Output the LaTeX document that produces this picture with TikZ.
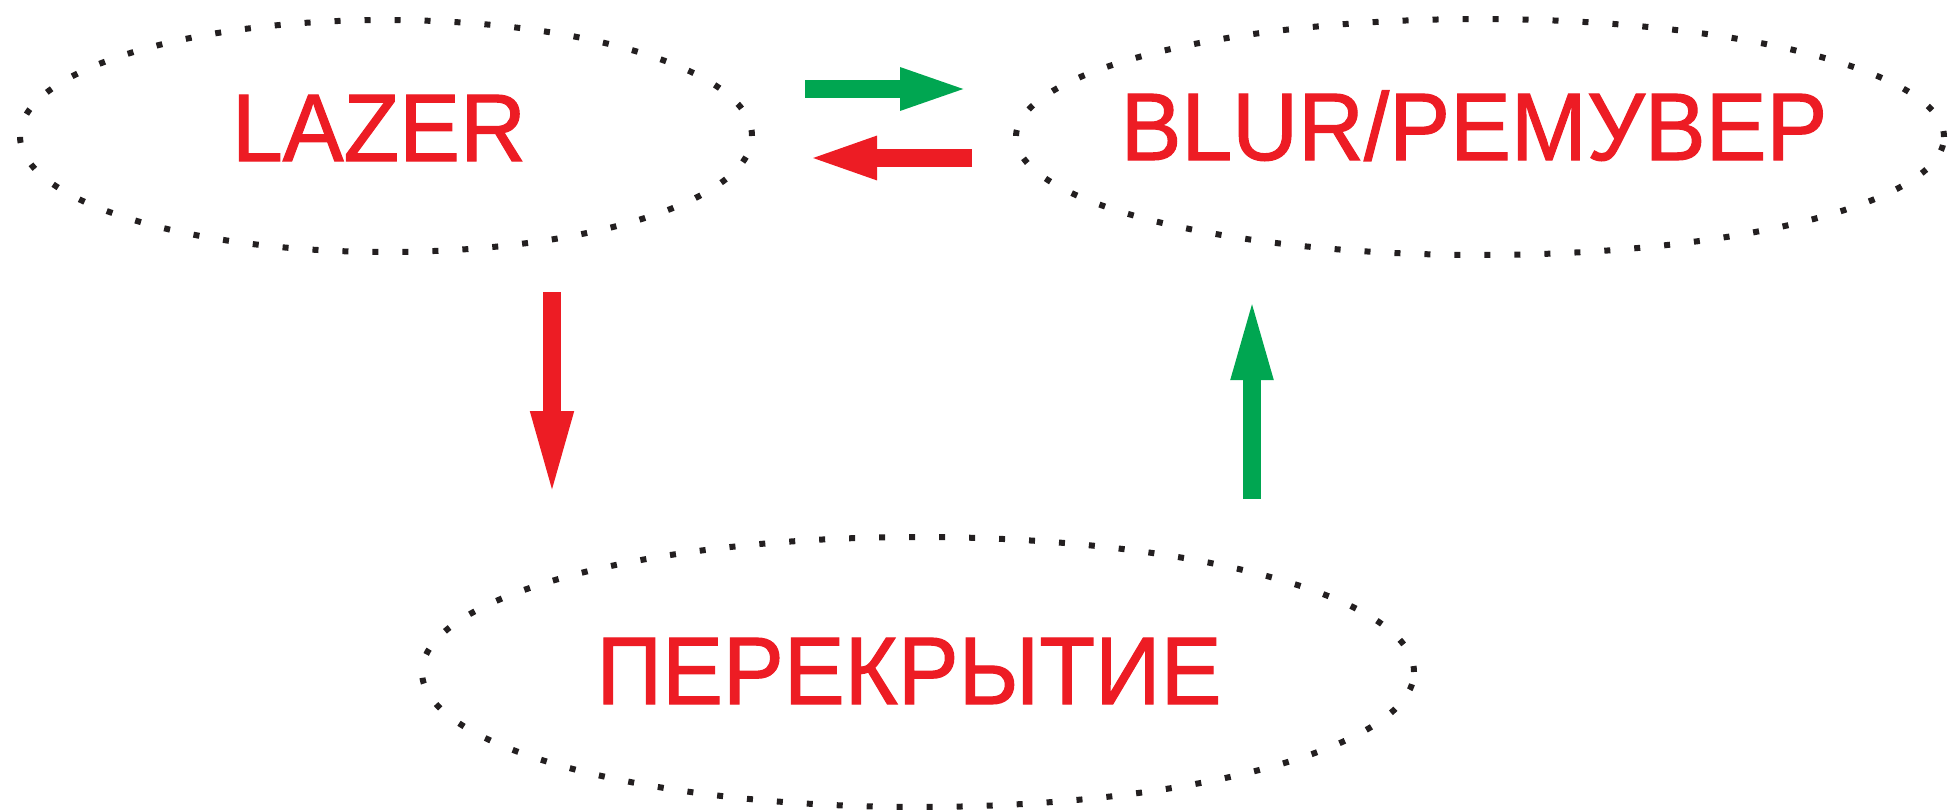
\documentclass[tikz,border=0pt]{standalone}
\usepackage{fontspec}
\setmainfont{Liberation Sans}
\newfontfamily\lblfont{Liberation Sans}[FakeBold=1.2]
\usetikzlibrary{shapes.geometric,arrows.meta}
\definecolor{cred}{RGB}{237,28,36}
\definecolor{cgreen}{RGB}{0,166,81}
\definecolor{cdot}{RGB}{35,31,32}
\begin{document}
\begin{tikzpicture}[x=1pt,y=-1pt,
  ring/.style={ellipse,draw=cdot,line width=6pt,dash pattern=on 6pt off 24pt,inner sep=0pt},
  lbl/.style={text=cred,anchor=base,inner sep=0pt,font=\lblfont\fontsize{96}{96}\selectfont,xscale=0.95,transform shape},
  gar/.style={draw=cgreen,line width=18pt,-{Triangle[length=#1,width=37pt]}},
  rar/.style={draw=cred,line width=18pt,-{Triangle[length=#1,width=38pt]}}]
\useasboundingbox (0,0) rectangle (1948,811);
\node[ring,minimum width=732pt,minimum height=232pt] (lz) at (386,136) {};
\node[ring,minimum width=928pt,minimum height=236pt] (bl) at (1480,137) {};
\node[ring,minimum width=992pt,minimum height=270pt] (pk) at (918,672) {};
\node[lbl] (tlz) at (379,161) {LAZER};
\node[lbl] (tbl) at (1474,160) {BLUR/РЕМУВЕР};
\node[lbl] (tpk) at (909,704) {ПЕРЕКРЫТИЕ};
\coordinate (g1s) at (805,89);
\coordinate (g1e) at (972,89);
\coordinate (r1s) at (972,158);
\coordinate (r1e) at (805,158);
\coordinate (r2s) at (552,292);
\coordinate (r2e) at (552,499);
\coordinate (g2s) at (1252,499);
\coordinate (g2e) at (1252,294);
\draw[gar=72pt] (g1s) -- (g1e);
\draw[rar=72pt] (r1s) -- (r1e);
\draw[rar=88pt] (r2s) -- (r2e);
\draw[gar=86pt] (g2s) -- (g2e);
\end{tikzpicture}
\end{document}
